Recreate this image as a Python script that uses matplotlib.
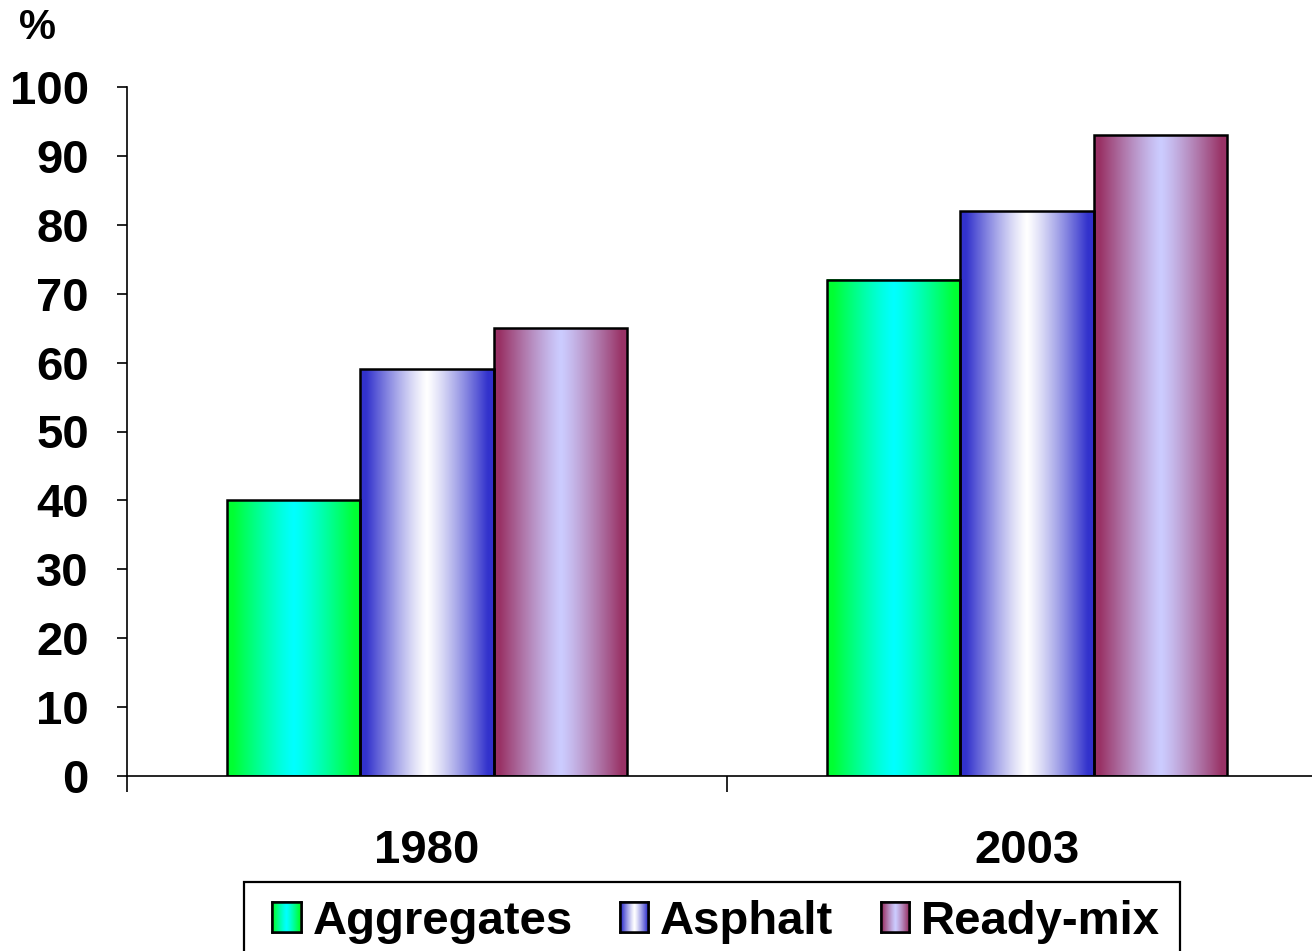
import numpy as np
import matplotlib
matplotlib.use("Agg")
import matplotlib.pyplot as plt
from matplotlib.colors import to_rgb
from matplotlib.patches import Patch, Rectangle

years = ["1980", "2003"]
series = ["Aggregates", "Asphalt", "Ready-mix"]
values = {
    "Aggregates": [40, 72],
    "Asphalt": [59, 82],
    "Ready-mix": [65, 93],
}
yticks = [0, 10, 20, 30, 40, 50, 60, 70, 80, 90, 100]

# gradient colours: (edge, centre)
grad = {
    "Aggregates": ("#00FF33", "#00FFFF"),
    "Asphalt": ("#3333CC", "#FFFFFF"),
    "Ready-mix": ("#993366", "#CCCCFF"),
}

plt.rcParams['font.family'] = ['Liberation Sans', 'DejaVu Sans']
plt.rcParams['font.weight'] = 'bold'
FS = 34

W, H = 1312, 951
fig = plt.figure(figsize=(W / 100, H / 100), dpi=100)
left, right = 127 / W, 1.0
bottom, top = (H - 776) / H, (H - 87) / H
ax = fig.add_axes([left, bottom, right - left, top - bottom])

x = np.arange(len(years))
bw = 0.222


def grad_img(name, n=256):
    e = np.array(to_rgb(grad[name][0]))
    c = np.array(to_rgb(grad[name][1]))
    t = np.abs(np.linspace(-1, 1, n))
    t = np.clip(t * 1.1, 0, 1) ** 1.2
    img = c[None, :] + (e - c)[None, :] * t[:, None]
    return img[None, :, :]


for i, s in enumerate(series):
    bars = ax.bar(x + (i - 1) * bw, values[s], bw, facecolor='none',
                  edgecolor='black', linewidth=1.8, zorder=3)
    for b in bars:
        x0, y0 = b.get_x(), b.get_y()
        ax.imshow(grad_img(s), extent=(x0, x0 + b.get_width(), y0, y0 + b.get_height()),
                  aspect='auto', interpolation='bilinear', zorder=2)

ax.set_yticks(yticks)
ax.set_yticklabels([str(v) for v in yticks], fontsize=FS, fontweight='bold')
ax.tick_params(axis='y', direction='out', length=7.5, width=1.2, pad=20)

ax.set_xticks([-0.5, 0.5, 1.5])
ax.set_xticklabels([])
ax.tick_params(axis='x', which='major', direction='out', length=11.5, width=1.2)
ax.set_xticks(x, minor=True)
ax.set_xticklabels(years, minor=True, fontsize=FS, fontweight='bold')
ax.tick_params(axis='x', which='minor', length=0, pad=38)
ax.set_xlim(-0.5, -0.5 + (W - 127) / 600)
ax.set_ylim(0, 100)

for sp in ['top', 'right']:
    ax.spines[sp].set_visible(False)
for sp in ['left', 'bottom']:
    ax.spines[sp].set_linewidth(1.2)

fig.text(38 / W, 1 - 28 / H, "%", fontsize=30, fontweight='bold', ha='center', va='center')

handles = [Patch(facecolor=grad[s][1], edgecolor='black', linewidth=1.8) for s in series]
leg = fig.legend(handles, series, loc='center', bbox_to_anchor=(716 / W, 1 - 922 / H),
                 ncol=3, fontsize=FS, frameon=False,
                 handlelength=0.6, handleheight=0.6, handletextpad=0.25,
                 columnspacing=1.0, borderpad=0.0, borderaxespad=0)
for t in leg.get_texts():
    t.set_fontweight('bold')

# legend frame
fig.add_artist(Rectangle((244 / W, -0.01), (1180 - 244) / W, (H - 882) / H + 0.01,
                         transform=fig.transFigure, facecolor='none', edgecolor='black',
                         linewidth=1.6, zorder=4))

fig.canvas.draw()
r = fig.canvas.get_renderer()
for s, h in zip(series, leg.legend_handles):
    bb = h.get_window_extent(r).transformed(fig.transFigure.inverted())
    iax = fig.add_axes([bb.x0, bb.y0, bb.width, bb.height], zorder=20)
    iax.imshow(grad_img(s), aspect='auto', extent=(0, 1, 0, 1), interpolation='bilinear')
    iax.set_xlim(0, 1)
    iax.set_ylim(0, 1)
    iax.set_xticks([])
    iax.set_yticks([])
    for sp in iax.spines.values():
        sp.set_linewidth(1.8)
        sp.set_edgecolor('black')

fig.savefig("out.png", dpi=100)
